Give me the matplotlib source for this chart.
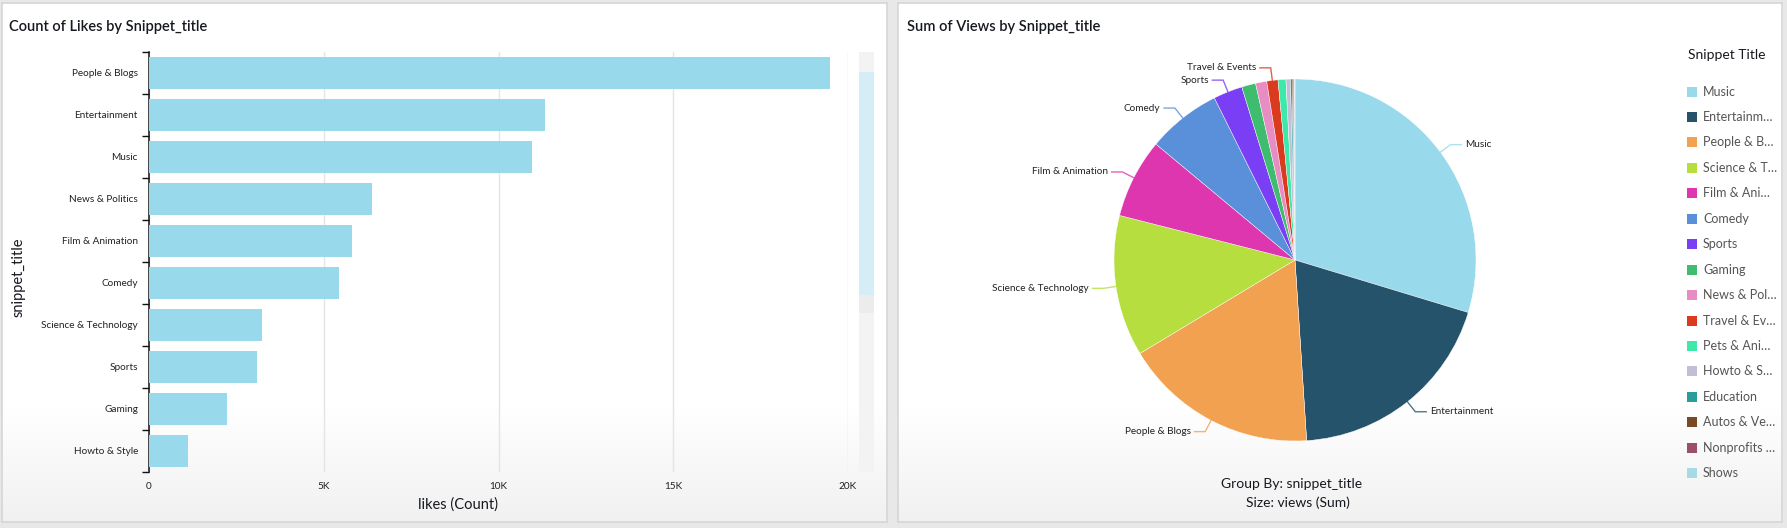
import numpy as np
import matplotlib
matplotlib.use("Agg")
import matplotlib.pyplot as plt
from matplotlib.patches import Rectangle
from matplotlib.ticker import FuncFormatter, FixedLocator

# ---------------- data ----------------
bar_categories = ["People & Blogs", "Entertainment", "Music", "News & Politics",
                  "Film & Animation", "Comedy", "Science & Technology", "Sports",
                  "Gaming", "Howto & Style"]
likes_count = [19480, 11340, 10950, 6370, 5820, 5430, 3240, 3100, 2220, 1110]
x_ticks = [0, 5000, 10000, 15000, 20000]
x_tick_labels = ["0", "5K", "10K", "15K", "20K"]

pie_categories = ["Music", "Entertainment", "People & Blogs", "Science & Technology",
                  "Film & Animation", "Comedy", "Sports", "Gaming", "News & Politics",
                  "Travel & Events", "Pets & Animals", "Howto & Style", "Education",
                  "Autos & Vehicles", "Nonprofits & Activism", "Shows"]
views_sum = [2970, 1930, 1740, 1260, 710, 660, 260, 125, 100, 100, 70, 40, 15, 10, 10, 5]
pie_colors = ["#98d9ec", "#24536b", "#f2a150", "#b5de3e", "#de36ae", "#5a8fd9",
              "#7a3ff5", "#3dbd6d", "#e88cc4", "#dc3a1f", "#3ee8a8", "#c1bfd8",
              "#2a9c9c", "#7a4a22", "#9c4e6b", "#a6dbe6"]
legend_labels = ["Music", "Entertainm…", "People & B…", "Science & T…", "Film & Ani…",
                 "Comedy", "Sports", "Gaming", "News & Pol…", "Travel & Ev…",
                 "Pets & Ani…", "Howto & S…", "Education", "Autos & Ve…",
                 "Nonprofits …", "Shows"]
labeled_slices = ["Music", "Entertainment", "People & Blogs", "Science & Technology",
                  "Film & Animation", "Comedy", "Sports", "Travel & Events"]

# ---------------- figure ----------------
W, H = 1787, 528
FONT = "Lato"
fig = plt.figure(figsize=(W / 100, H / 100), dpi=100)
fig.patch.set_facecolor("#e8e8e8")


def fx(x):
    return x / W


def fy(y):
    return 1 - y / H


def panel(x0, x1, y0, y1):
    a = fig.add_axes([fx(x0), fy(y1), (x1 - x0) / W, (y1 - y0) / H], zorder=-5)
    n = 200
    t = np.linspace(0, 1, n)
    g = np.where(t < 0.78, 1.0, 1.0 - (t - 0.78) / 0.22 * 0.055)
    img = np.repeat(g[:, None], 2, axis=1)
    a.imshow(np.dstack([img, img, img]), aspect="auto", extent=[0, 1, 0, 1],
             origin="upper", interpolation="bilinear")
    a.set_xticks([]); a.set_yticks([])
    for s in a.spines.values():
        s.set_color("#d6d6d6"); s.set_linewidth(1.2)
    return a


panel(2, 887, 3, 522)
panel(898, 1782, 3, 522)

# ---------------- bar chart ----------------
bx0, bx1, by0, by1 = 149, 848, 52, 472
ax = fig.add_axes([fx(bx0), fy(by1), (bx1 - bx0) / W, (by1 - by0) / H])
ax.patch.set_alpha(0)
ypos = np.arange(len(bar_categories))
ax.barh(ypos, likes_count, height=0.78, color="#98daeb", zorder=3)
ax.set_xlim(0, 20000)
ax.set_ylim(len(bar_categories) - 0.5, -0.5)
ax.set_yticks(ypos)
ax.set_yticklabels(bar_categories, fontsize=7.2, family=FONT, color="#222222")
ax.yaxis.set_minor_locator(FixedLocator(np.arange(-0.5, len(bar_categories), 1)))
ax.tick_params(axis="y", which="major", length=0, pad=8)
ax.tick_params(axis="y", which="minor", length=5, width=1, color="#111111")
ax.set_xticks(x_ticks)
ax.set_xticklabels(x_tick_labels, fontsize=7.2, family=FONT, color="#222222")
ax.tick_params(axis="x", length=0, pad=7)
ax.grid(axis="x", color="#e4e4e4", linewidth=1, zorder=0)
for s in ["top", "right", "bottom"]:
    ax.spines[s].set_visible(False)
ax.spines["left"].set_color("#111111")
ax.spines["left"].set_linewidth(1.1)

fig.text(fx(9), fy(27), "Count of Likes by Snippet_title", fontsize=10.5,
         family=FONT, fontweight="semibold", color="#16191f", va="center", ha="left")
fig.text(fx(458), fy(505), "likes (Count)", fontsize=10.5, family=FONT,
         color="#16191f", ha="center", va="center")
fig.text(fx(19), fy(277), "snippet_title", fontsize=10.5, family=FONT,
         color="#16191f", ha="center", va="center", rotation=90)

# scrollbar
fig.add_artist(Rectangle((fx(859), fy(472)), 15 / W, 420 / H, transform=fig.transFigure,
                         facecolor="#f3f3f3", edgecolor="none"))
fig.add_artist(Rectangle((fx(859), fy(295)), 15 / W, 223 / H, transform=fig.transFigure,
                         facecolor="#d5edf6", edgecolor="none"))
fig.add_artist(Rectangle((fx(859), fy(313)), 15 / W, 18 / H, transform=fig.transFigure,
                         facecolor="#ececec", edgecolor="none"))

# ---------------- pie chart ----------------
cx, cy, R = 1295, 260, 181
pax = fig.add_axes([fx(cx - R), fy(cy + R), 2 * R / W, 2 * R / H])
pax.patch.set_alpha(0)
wedges, _ = pax.pie(views_sum, colors=pie_colors, startangle=90, counterclock=False,
                    radius=1.0, wedgeprops=dict(edgecolor="white", linewidth=0.3))
pax.set_xlim(-1, 1); pax.set_ylim(-1, 1)
pax.set_aspect("equal")
pax.axis("off")

for w, name, col in zip(wedges, pie_categories, pie_colors):
    if name not in labeled_slices:
        continue
    ang = np.deg2rad((w.theta1 + w.theta2) / 2)
    c, s = np.cos(ang), np.sin(ang)
    sign = 1 if c >= 0 else -1
    p0 = (c * 1.0, s * 1.0)
    p1 = (c * 1.07, s * 1.07)
    p2 = (p1[0] + sign * 0.06, p1[1])
    pax.plot([p0[0], p1[0], p2[0]], [p0[1], p1[1], p2[1]], color=col, lw=1,
             alpha=0.8, clip_on=False, solid_joinstyle="miter")
    pax.text(p2[0] + sign * 0.02, p2[1], name, fontsize=7.2, family=FONT,
             color="#222222", ha="left" if sign > 0 else "right", va="center")

fig.text(fx(907), fy(27), "Sum of Views by Snippet_title", fontsize=10.5,
         family=FONT, fontweight="semibold", color="#16191f", va="center", ha="left")
fig.text(fx(1292), fy(484), "Group By: snippet_title", fontsize=10, family=FONT,
         color="#16191f", ha="center", va="center")
fig.text(fx(1298), fy(503), "Size: views (Sum)", fontsize=10, family=FONT,
         color="#16191f", ha="center", va="center")

# legend
fig.text(fx(1688), fy(55), "Snippet Title", fontsize=10, family=FONT,
         color="#16191f", ha="left", va="center")
for i, (lab, col) in enumerate(zip(legend_labels, pie_colors)):
    yc = 91.5 + i * 25.45
    fig.add_artist(Rectangle((fx(1687), fy(yc + 5)), 10 / W, 10 / H,
                             transform=fig.transFigure, facecolor=col, edgecolor="none"))
    fig.text(fx(1703), fy(yc), lab, fontsize=9, family=FONT, color="#555555",
             ha="left", va="center")

fig.savefig("out.png", dpi=100, facecolor=fig.get_facecolor())
